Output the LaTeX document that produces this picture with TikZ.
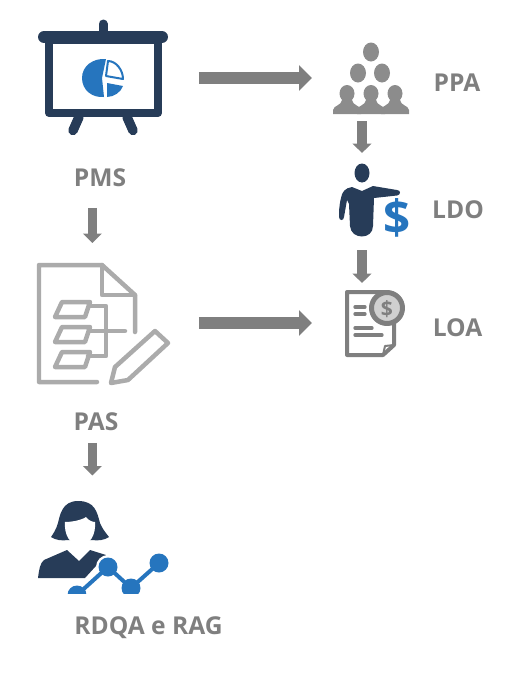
\documentclass[tikz,border=0pt]{standalone}
\usepackage{fontspec}
\setmainfont{Open Sans}
\definecolor{navy}{RGB}{39,60,88}
\definecolor{accent}{RGB}{38,117,190}
\definecolor{bargray}{RGB}{127,127,127}
\definecolor{peoplegray}{RGB}{140,140,140}
\definecolor{docgray}{RGB}{171,171,171}
\definecolor{coingray}{RGB}{208,208,208}
\usetikzlibrary{arrows.meta}
\tikzset{
  icon/.style n args={2}{rectangle,inner sep=0pt,outer sep=0pt,
                         minimum width=#1*0.02cm,minimum height=#2*0.02cm},
  tag/.style={text=bargray,font=\fontsize{14}{14}\selectfont\bfseries,
               inner sep=0pt,outer sep=0pt,text height=10pt,text depth=0pt},
  hbar/.style={bargray,line width=0.24cm,
               -{Triangle[length=0.26cm,width=0.5cm]}},
  vbar/.style={bargray,line width=0.19cm,
               -{Triangle[length=0.19cm,width=0.37cm]}},
}
\begin{document}
\begin{tikzpicture}[x=0.02cm,y=-0.02cm,
      round/.style={line cap=round,line join=round},
    ]
    \useasboundingbox (0,0) rectangle (524,673);

    \node[icon={130}{116}] (pmsicon)   at (103,78)   {};
    \node[icon={130}{118}] (pasicon)   at (103,323)  {};
    \node[icon={130}{93}]  (rdqaicon)  at (103,547)  {};
    \node[icon={75}{72}]   (ppaicon)   at (370.5,78) {};
    \node[icon={69}{72}]   (ldoicon)   at (373.5,200) {};
    \node[icon={58}{66}]   (loaicon)   at (376,323)  {};

    \node[tag] (pms)  at (100,178)   {PMS};
    \node[tag] (pas)  at (96,422)    {PAS};
    \node[tag] (rdqa) at (148.5,626) {RDQA e RAG};
    \node[tag] (ppa)  at (457,83)    {PPA};
    \node[tag] (ldo)  at (458,210)   {LDO};
    \node[tag] (loa)  at (457.5,328) {LOA};

    \coordinate (coll) at (92.3,0);
    \coordinate (colr) at (362,0);

    % presentation board
    \draw[navy,line width=0.18cm,round] (103,24) -- (103,34);
    \draw[navy,line width=0.19cm,round] (79,117) -- (73,130.5);
    \draw[navy,line width=0.19cm,round] (127,117) -- (133,130.5);
    \draw[navy,fill=white,line width=0.16cm,round] (49,40) rectangle (158,113);
    \draw[navy,line width=0.24cm,round] (44,37) -- (162,37);
    \fill[accent] (106,59) .. controls (93,58) and (82,66) .. (82,78)
      .. controls (82,90) and (92,98) .. (104,97) -- (102,78) -- cycle;
    \fill[accent] (107,83) -- (123,86) .. controls (121,92) and (114,97) .. (107,97) -- cycle;
    \draw[accent,fill=white,line width=0.04cm,line join=round]
      (108,61) .. controls (116,61) and (123,70) .. (123,79) -- (106,76) -- cycle;

    % document with flow chart
    \begin{scope}[docgray,line width=0.09cm,round]
      \draw (135,332) -- (135,295) -- (102,265) -- (39,265) -- (39,382) -- (97,382);
      \draw (102,265) -- (102,295) -- (135,295);
      \foreach \y in {302,327,352}
        \draw (62,\y) -- (90,\y) -- (85,\y+15) -- (55,\y+15) -- cycle;
      \draw (90,306) -- (106,306) -- (106,356) -- (88,356);
      \draw (90,331) -- (125,331);
      \draw (111,383) -- (115,367) -- (155,331) -- (168,343) -- (128,380) -- cycle;
    \end{scope}

    % woman with chart
    \fill[navy] (78,501) .. controls (62,501) and (60,515) .. (58,523)
      .. controls (56,530) and (53,534) .. (51,537)
      .. controls (55,540) and (62,541) .. (68,540) -- (92,540)
      .. controls (98,541) and (105,540) .. (109,537)
      .. controls (105,532) and (102,528) .. (100,523)
      .. controls (97,512) and (95,501) .. (78,501) -- cycle;
    \fill[white] (65,522) .. controls (72,522) and (82,520) .. (86,517)
      .. controls (89,521) and (93,522) .. (95,522)
      .. controls (96,535) and (90,545) .. (80,545)
      .. controls (70,545) and (64,535) .. (65,522) -- cycle;
    \fill[navy] (38,578) .. controls (39,570) and (40,563) .. (44,560)
      -- (67,550) -- (79,561) -- (90,550) -- (106,555) -- (85,578) -- cycle;
    \begin{scope}
      \clip (60,540) rectangle (175,593.5);
      \fill[white] (108,567) circle (12);
      \draw[white,line width=0.2cm] (77,595) -- (108,567);
      \draw[accent,line width=0.08cm] (77,595) -- (108,567) -- (131,588) -- (159,563);
      \foreach \p in {(77,595),(108,567),(131,588),(159,563)}
        \fill[accent] \p circle (9.5);
    \end{scope}

    % group of people
    \fill[peoplegray] (371,52) ellipse (8 and 9.5);
    \foreach \x in {358,382}
      \fill[peoplegray] (\x,73) ellipse (8 and 9.5);
    \foreach \x in {347,371,395} {
      \fill[peoplegray] (\x,93.5) ellipse (7.5 and 8.5);
      \fill[peoplegray] (\x-14,114) -- (\x-14,110) .. controls (\x-13,105) and (\x-6,106) .. (\x-5,100)
        -- (\x+5,100) .. controls (\x+6,106) and (\x+13,105) .. (\x+14,110) -- (\x+14,114) -- cycle;
    }

    % man with dollar
    \fill[navy] (362,173) ellipse (7.5 and 9.5);
    \fill[navy] (352,187) .. controls (345,188) and (342,192) .. (341,198)
      .. controls (339,206) and (339,212) .. (339,217)
      .. controls (339,221) and (344,221) .. (344,217) -- (347,200) -- (349,204) -- (350,226)
      .. controls (351,240) and (373,240) .. (373,226) -- (374,198)
      -- (397,195.5) .. controls (401,195) and (401,190) .. (397,190)
      -- (373,186) -- (362,191) -- cycle;
    \node[text=accent,font=\fontsize{27}{27}\selectfont\bfseries,inner sep=0pt] (dollar) at (397.5,218) {\$};

    % budget sheet with coin
    \begin{scope}[bargray,round]
      \draw[line width=0.08cm,fill=white] (347,292) -- (388,292) -- (394,300) -- (394,345) -- (383,355) -- (347,355) -- cycle;
      \draw[line width=0.04cm] (394,345) -- (385,346) -- (383,355);
      \foreach \y/\e in {307/365,314/365,328/372,335/382}
        \draw[line width=0.065cm] (355,\y) -- (\e,\y);
      \draw[line width=0.1cm,fill=coingray] (387,308) circle (15.5);
    \end{scope}
    \node[text=bargray,font=\fontsize{12}{12}\selectfont\bfseries,inner sep=0pt] (coin) at (387,309) {\$};

    % arrows
    \draw[hbar,shorten <=0.62cm,shorten >=0.42cm] (pmsicon.east) -- (ppaicon.west);
    \draw[hbar,shorten <=0.62cm,shorten >=0.7cm] (pasicon.east) -- (loaicon.west);
    \draw[vbar,shorten <=0.42cm,shorten >=0.42cm] (pms.south -| coll) -- (pasicon.north -| coll);
    \draw[vbar,shorten <=0.24cm,shorten >=0.5cm] (pas.south -| coll) -- (rdqaicon.north -| coll);
    \draw[vbar,shorten <=0.14cm,shorten >=0.22cm] (ppaicon.south -| colr) -- (ldoicon.north -| colr);
    \draw[vbar,shorten <=0.28cm,shorten >=0.14cm] (ldoicon.south -| colr) -- (loaicon.north -| colr);
\end{tikzpicture}
\end{document}
